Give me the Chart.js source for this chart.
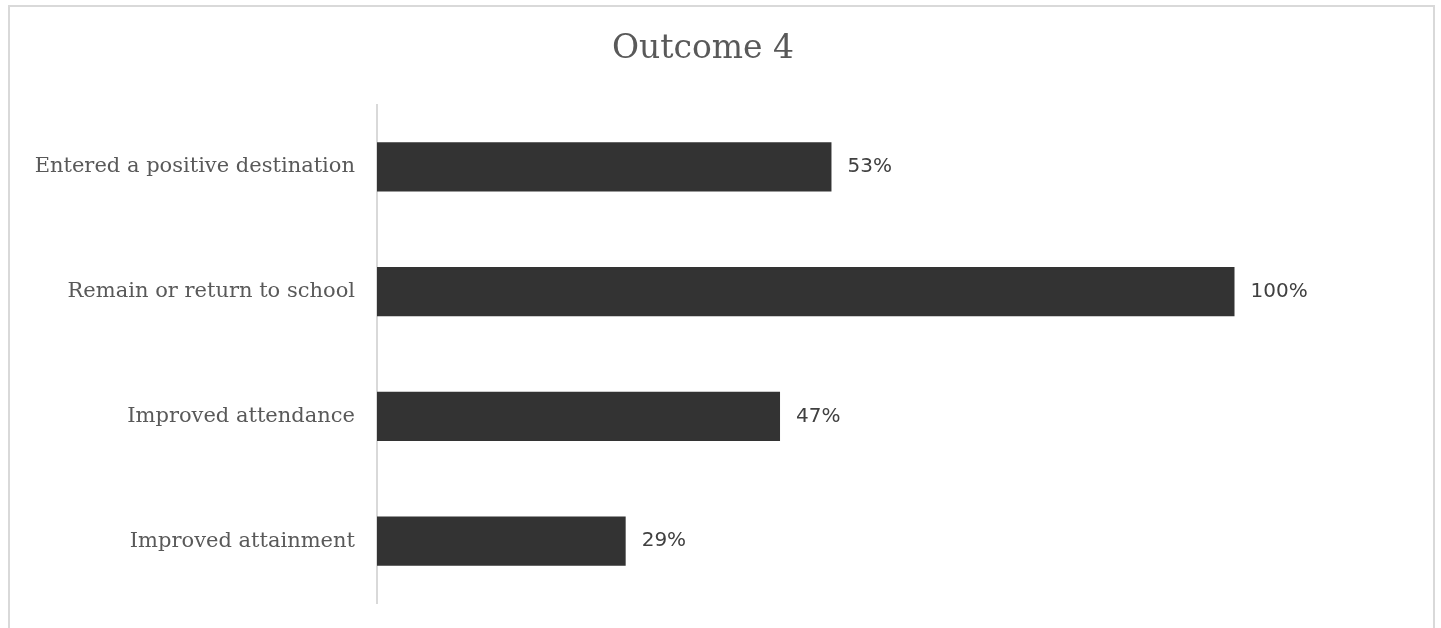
<!DOCTYPE html>
<html>
<head>
<meta charset="utf-8">
<script src="https://cdn.jsdelivr.net/npm/chart.js@4/dist/chart.umd.min.js"></script>
<style>
    html, body { margin: 0; padding: 0; background: #fff; overflow: hidden; }
    #frame {
        position: absolute; left: 8px; top: 5px; width: 1427px; height: 640px;
        border: 2px solid #d9d9d9; box-sizing: border-box; pointer-events: none;
    }
    #wrap { position: absolute; left: 0; top: 0; width: 1441px; height: 638px; }
</style>
</head>
<body>
<div id="wrap"><canvas id="outcome"></canvas></div>
<div id="frame"></div>
<script>
const categories = [
    'Entered a positive destination',
    'Remain or return to school',
    'Improved attendance',
    'Improved attainment'
];
const percentages = [53, 100, 47, 29];
const chartTitle = 'Outcome 4';

const valueLabels = {
    id: 'valueLabels',
    afterDatasetsDraw(chart) {
        const ctx = chart.ctx;
        const meta = chart.getDatasetMeta(0);
        ctx.save();
        ctx.fillStyle = '#404040';
        ctx.font = '20px "DejaVu Sans"';
        ctx.textBaseline = 'middle';
        ctx.textAlign = 'left';
        meta.data.forEach((bar, i) => {
            ctx.fillText(percentages[i] + '%', bar.x + 16, bar.y);
        });
        ctx.restore();
    }
};

new Chart(document.getElementById('outcome'), {
    type: 'bar',
    data: {
        labels: categories,
        datasets: [{
            data: percentages,
            backgroundColor: '#333333',
            categoryPercentage: 1,
            barPercentage: 0.395
        }]
    },
    options: {
        indexAxis: 'y',
        responsive: true,
        maintainAspectRatio: false,
        animation: false,
        layout: {
            padding: { left: 0, right: 35, top: 0, bottom: 0 }
        },
        scales: {
            x: {
                display: false,
                min: 0,
                max: 120
            },
            y: {
                afterFit: (scale) => { scale.width = 377; },
                grid: { display: false, drawTicks: false },
                border: { display: true, color: '#d9d9d9', width: 2 },
                ticks: {
                    color: '#595959',
                    padding: 22,
                    font: { family: '"DejaVu Serif", serif', size: 21 }
                }
            }
        },
        plugins: {
            legend: false,
            tooltip: { enabled: false },
            title: {
                display: true,
                text: chartTitle,
                color: '#595959',
                font: { family: '"DejaVu Serif", serif', size: 33, weight: 'normal' },
                padding: { top: 30, bottom: 35 }
            }
        }
    },
    plugins: [valueLabels]
});
</script>
</body>
</html>
